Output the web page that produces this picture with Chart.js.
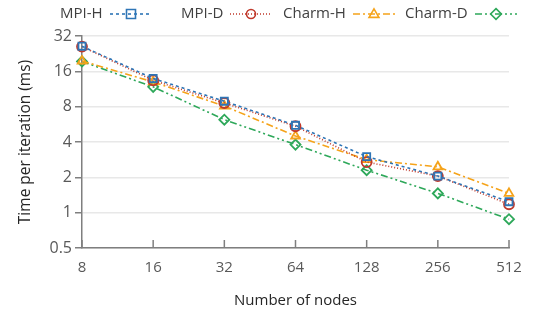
<!DOCTYPE html>
<html lang="en">
<head>
<meta charset="UTF-8">
<title>Time per iteration</title>
<script src="https://cdn.jsdelivr.net/npm/chart.js"></script>
<style>
  body { margin: 0; padding: 0; background: white; overflow: hidden; }
  #wrap { width: 543px; height: 314px; }
</style>
</head>
<body>
<div id="wrap"><canvas id="c" width="543" height="314"></canvas></div>
<script>
const nodes = ['8', '16', '32', '64', '128', '256', '512'];
const yTicks = [0.5, 1, 2, 4, 8, 16, 32];
const mpiH = [26.2, 13.9, 8.9, 5.55, 3.0, 2.05, 1.24];
const mpiD = [26.0, 13.4, 8.6, 5.45, 2.7, 2.05, 1.18];
const charmH = [19.6, 13.0, 8.1, 4.5, 2.83, 2.46, 1.46];
const charmD = [19.4, 11.8, 6.2, 3.8, 2.3, 1.46, 0.88];

const FONT = "'Open Sans', 'Liberation Sans', sans-serif";
const TXT = '#595959';

const series = [
  { label: 'MPI-H', data: mpiH, color: '#2e75b6', dash: [3, 3], style: 'rect' },
  { label: 'MPI-D', data: mpiD, color: '#c0392b', dash: [1, 2], style: 'circle' },
  { label: 'Charm-H', data: charmH, color: '#f5a31a', dash: [7, 3, 2, 3], style: 'triangle' },
  { label: 'Charm-D', data: charmD, color: '#2ea85a', dash: [7, 3, 2, 3, 2, 3], style: 'rectRot' }
];

function marker(ctx, style, x, y, r) {
  ctx.beginPath();
  if (style === 'rect') {
    ctx.rect(x - r, y - r, 2 * r, 2 * r);
  } else if (style === 'circle') {
    ctx.arc(x, y, r, 0, Math.PI * 2);
  } else if (style === 'triangle') {
    ctx.moveTo(x, y - r * 1.15);
    ctx.lineTo(x + r * 1.1, y + r * 0.75);
    ctx.lineTo(x - r * 1.1, y + r * 0.75);
    ctx.closePath();
  } else {
    ctx.moveTo(x, y - r * 1.2);
    ctx.lineTo(x + r * 1.2, y);
    ctx.lineTo(x, y + r * 1.2);
    ctx.lineTo(x - r * 1.2, y);
    ctx.closePath();
  }
  ctx.stroke();
}

// legend along the top: text, then a line sample with the marker in the middle
const topLegend = {
  id: 'topLegend',
  afterDraw(chart) {
    const ctx = chart.ctx;
    const pos = [[60, 110], [181, 230], [283, 353], [405, 475]];
    ctx.save();
    ctx.font = '15px ' + FONT;
    ctx.textBaseline = 'middle';
    series.forEach((s, i) => {
      const y = 14;
      ctx.fillStyle = '#404040';
      ctx.fillText(s.label, pos[i][0], y);
      const x0 = pos[i][1];
      ctx.strokeStyle = s.color;
      ctx.lineWidth = 1.6;
      ctx.setLineDash(s.dash);
      ctx.beginPath();
      ctx.moveTo(x0, y);
      ctx.lineTo(x0 + 42, y);
      ctx.stroke();
      ctx.setLineDash([]);
      ctx.lineWidth = 1.6;
      marker(ctx, s.style, x0 + 21, y, 4.5);
    });
    ctx.restore();
  }
};

// short tick marks pointing up into the plot from the x axis
const innerTicks = {
  id: 'innerTicks',
  afterDatasetsDraw(chart) {
    const ctx = chart.ctx;
    const xs = chart.scales.x;
    const bottom = chart.chartArea.bottom;
    ctx.save();
    ctx.strokeStyle = '#7f7f7f';
    ctx.lineWidth = 1.5;
    xs.ticks.forEach((t, i) => {
      const px = xs.getPixelForTick(i);
      ctx.beginPath();
      ctx.moveTo(px, bottom);
      ctx.lineTo(px, bottom - 8);
      ctx.stroke();
    });
    ctx.restore();
  }
};

new Chart(document.getElementById('c'), {
  type: 'line',
  data: {
    labels: nodes,
    datasets: series.map(s => ({
      label: s.label,
      data: s.data,
      borderColor: s.color,
      borderWidth: 1.6,
      borderDash: s.dash,
      pointStyle: s.style,
      pointRadius: 5,
      pointBorderWidth: 1.8,
      pointBorderColor: s.color,
      pointBackgroundColor: 'rgba(0,0,0,0)',
      fill: false,
      tension: 0
    }))
  },
  options: {
    responsive: false,
    animation: false,
    layout: { padding: { top: 36, right: 34, left: 12, bottom: 0 } },
    plugins: { legend: { display: false }, tooltip: { enabled: false } },
    scales: {
      x: {
        offset: false,
        grid: { display: true, drawOnChartArea: false, drawTicks: false },
        border: { color: '#7f7f7f', width: 1.5 },
        ticks: { color: TXT, font: { family: FONT, size: 15 }, padding: 11, maxRotation: 0 },
        title: { display: true, text: 'Number of nodes', color: '#262626', font: { family: FONT, size: 15 }, padding: { top: 8 } },
        afterFit(scale) { scale.height = 66; }
      },
      y: {
        type: 'logarithmic',
        min: 0.5,
        max: 32,
        afterBuildTicks(scale) { scale.ticks = yTicks.map(v => ({ value: v })); },
        grid: { color: '#e8e8e8', lineWidth: 1.5, tickLength: 7, tickColor: '#7f7f7f' },
        border: { color: '#7f7f7f', width: 1.5 },
        ticks: { color: TXT, font: { family: FONT, size: 16 }, padding: 3, callback: v => String(v) },
        title: { display: true, text: 'Time per iteration (ms)', color: '#262626', font: { family: FONT, size: 15.5 }, padding: { bottom: 4 } },
        afterFit(scale) { scale.width = 70; }
      }
    }
  },
  plugins: [topLegend, innerTicks]
});
</script>
</body>
</html>
